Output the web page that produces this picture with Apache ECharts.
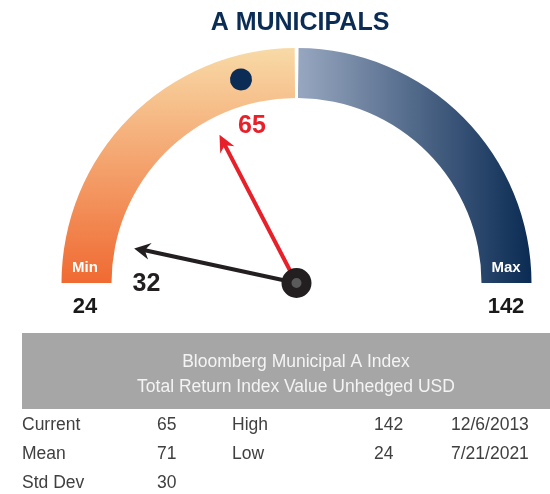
<!DOCTYPE html>
<html>
<head>
<meta charset="utf-8">
<script src="https://cdn.jsdelivr.net/npm/echarts@6/dist/echarts.min.js"></script>
<style>
  html, body { margin: 0; padding: 0; background: #ffffff; }
  #chart { width: 550px; height: 494px; }
</style>
</head>
<body>
<div id="chart"></div>
<script>
// gauge data
const gaugeMin = 24
const gaugeMax = 142
const currentValue = 65
const priorValue = 32
// navy dot on the band (read from its position)
const dotValue = 73

// stats table
const indexTitle = ['Bloomberg Municipal A Index', 'Total Return Index Value Unhedged USD']
const statLabels = ['Current', 'Mean', 'Std Dev']
const statValues = [65, 71, 30]
const extremeLabels = ['High', 'Low']
const extremeValues = [142, 24]
const extremeDates = ['12/6/2013', '7/21/2021']

const FONT = "'Liberation Sans', Arial, sans-serif"
const center = [296.5, 283]
const radius = 235
const bandWidth = 50

const redArrow = 'path://M8 0 L16 17 L10 13 L10 167 L6 167 L6 13 L0 17 Z'
const blackArrow = 'path://M8 0 L17 16 L10.5 12 L10.5 166 L6.5 166 L6.5 12 L0 16 Z'

const leftGrad = new echarts.graphic.LinearGradient(0, 0, 0, 1, [
  { offset: 0, color: '#F8DAA7' },
  { offset: 1, color: '#F06A32' }
])
const rightGrad = new echarts.graphic.LinearGradient(0, 0, 1, 0, [
  { offset: 0, color: '#98A7C0' },
  { offset: 1, color: '#0A2B53' }
])

// common gauge settings
const base = {
  type: 'gauge',
  center: center,
  radius: radius,
  min: gaugeMin,
  max: gaugeMax,
  startAngle: 180,
  endAngle: 0,
  splitLine: { show: false },
  axisTick: { show: false },
  axisLabel: { show: false },
  title: { show: false },
  animation: false
}

const chart = echarts.init(document.getElementById('chart'))

// table texts
const tableTexts = []
const colX = [22, 157, 232, 374, 451]
const rowY = [425, 454.5, 483]
const cell = (x, y, t) => ({
  type: 'text', x: x, y: y,
  style: { text: String(t), fill: '#404040', font: '17.5px ' + FONT, align: 'left', verticalAlign: 'middle' }
})
statLabels.forEach((l, i) => {
  tableTexts.push(cell(colX[0], rowY[i], l))
  tableTexts.push(cell(colX[1], rowY[i], statValues[i]))
})
extremeLabels.forEach((l, i) => {
  tableTexts.push(cell(colX[2], rowY[i], l))
  tableTexts.push(cell(colX[3], rowY[i], extremeValues[i]))
  tableTexts.push(cell(colX[4], rowY[i], extremeDates[i]))
})

const option = {
  backgroundColor: '#ffffff',
  title: {
    text: 'A MUNICIPALS',
    left: 295,
    textAlign: 'center',
    top: 6,
    textStyle: { color: '#0B2D55', fontSize: 25, fontWeight: 'bold', fontFamily: FONT }
  },
  graphic: [
    {
      type: 'rect',
      shape: { x: 22, y: 333, width: 528, height: 76 },
      style: { fill: '#A6A6A6' }
    },
    {
      type: 'text', x: 296, y: 362,
      style: { text: indexTitle[0], fill: '#F4F4F4', font: '17.5px ' + FONT, align: 'center', verticalAlign: 'middle' }
    },
    {
      type: 'text', x: 296, y: 387,
      style: { text: indexTitle[1], fill: '#F4F4F4', font: '17.5px ' + FONT, align: 'center', verticalAlign: 'middle' }
    },
    {
      type: 'text', x: 85, y: 268, z: 10,
      style: { text: 'Min', fill: '#ffffff', font: 'bold 15px ' + FONT, align: 'center', verticalAlign: 'middle' }
    },
    {
      type: 'text', x: 506, y: 268, z: 10,
      style: { text: 'Max', fill: '#ffffff', font: 'bold 15px ' + FONT, align: 'center', verticalAlign: 'middle' }
    },
    {
      type: 'text', x: 85, y: 307,
      style: { text: String(gaugeMin), fill: '#1a1a1a', font: 'bold 22px ' + FONT, align: 'center', verticalAlign: 'middle' }
    },
    {
      type: 'text', x: 506, y: 307,
      style: { text: String(gaugeMax), fill: '#1a1a1a', font: 'bold 22px ' + FONT, align: 'center', verticalAlign: 'middle' }
    }
  ].concat(tableTexts),
  series: [
    // band + navy dot
    Object.assign({}, base, {
      axisLine: {
        lineStyle: {
          width: bandWidth,
          color: [[0.4975, leftGrad], [0.5025, '#ffffff'], [1, rightGrad]]
        }
      },
      pointer: {
        icon: 'circle',
        width: 22,
        length: 22,
        offsetCenter: [0, -200],
        itemStyle: { color: '#0B2D55' }
      },
      anchor: { show: false },
      detail: { show: false },
      data: [{ value: dotValue }]
    }),
    // prior value (black)
    Object.assign({}, base, {
      axisLine: { show: false },
      pointer: {
        icon: blackArrow,
        width: 17,
        length: 166,
        itemStyle: { color: '#231F20' }
      },
      anchor: { show: false },
      detail: {
        offsetCenter: [-150, 1],
        color: '#231F20',
        fontSize: 25,
        fontWeight: 'bold',
        fontFamily: FONT,
        formatter: '{value}'
      },
      data: [{ value: priorValue }]
    }),
    // current value (red)
    Object.assign({}, base, {
      axisLine: { show: false },
      pointer: {
        icon: redArrow,
        width: 16,
        length: 167,
        itemStyle: { color: '#E8202A' }
      },
      anchor: {
        show: true,
        showAbove: true,
        icon: 'circle',
        size: 20,
        itemStyle: { color: '#5A5A5A', borderColor: '#231F20', borderWidth: 10 }
      },
      detail: {
        offsetCenter: [-44.5, -157],
        color: '#E8202A',
        fontSize: 25,
        fontWeight: 'bold',
        fontFamily: FONT,
        formatter: '{value}'
      },
      data: [{ value: currentValue }]
    })
  ]
}

chart.setOption(option)
addEventListener('resize', () => {
  chart.resize()
})
</script>
</body>
</html>
